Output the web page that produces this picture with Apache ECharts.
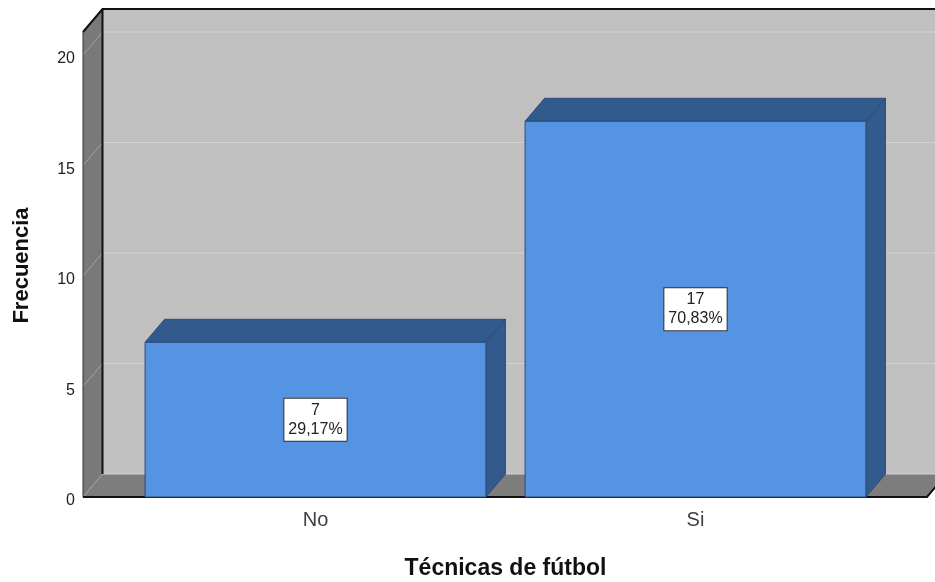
<!DOCTYPE html>
<html>
<head>
<meta charset="utf-8">
<script src="https://cdn.jsdelivr.net/npm/echarts@6/dist/echarts.min.js"></script>
<style>
  html, body { margin: 0; padding: 0; background: #fff; }
  #chart { width: 935px; height: 582px; }
</style>
</head>
<body>
<div id="chart"></div>
<script>
const categories = ['No', 'Si'];
const counts = [7, 17];
const percents = ['29,17%', '70,83%'];
const yTicks = [0, 5, 10, 15, 20];

// depth of the 3d look, in pixels
const DX = 19.5;
const DY = -23;
const FONT = '"Liberation Sans", Arial, sans-serif';

const chart = echarts.init(document.getElementById('chart'));

const renderWalls = (params, api) => {
  const cs = params.coordSys;
  const left = cs.x - 42.5;
  const right = cs.x + cs.width + 41.5;
  const y0 = api.coord([0, 0])[1];
  const yTop = api.coord([0, 20])[1] + DY;
  const children = [];

  // back wall
  children.push({
    type: 'rect',
    shape: { x: left + DX, y: yTop + DY, width: 2000, height: y0 - yTop },
    style: { fill: '#c0c0c0' }
  });
  // left wall
  children.push({
    type: 'polygon',
    shape: { points: [[left, yTop], [left + DX, yTop + DY], [left + DX, y0 + DY], [left, y0]] },
    style: { fill: '#797979' }
  });
  // floor
  children.push({
    type: 'polygon',
    shape: { points: [[left, y0], [left + DX, y0 + DY], [right + DX, y0 + DY], [right, y0]] },
    style: { fill: '#7d7d7d' }
  });
  // grid lines
  yTicks.forEach(v => {
    const y = api.coord([0, v])[1];
    children.push({
      type: 'line',
      shape: { x1: left + DX, y1: y + DY, x2: right + 200, y2: y + DY },
      style: { stroke: '#d2d2d2', lineWidth: 1 }
    });
    children.push({
      type: 'line',
      shape: { x1: left, y1: y, x2: left + DX, y2: y + DY },
      style: { stroke: '#a0a0a0', lineWidth: 1 }
    });
  });
  // edges
  children.push({
    type: 'polyline',
    shape: { points: [[left, yTop], [left + DX, yTop + DY], [right + 200, yTop + DY]] },
    style: { stroke: '#111', lineWidth: 2, fill: null }
  });
  children.push({
    type: 'line',
    shape: { x1: left + DX, y1: yTop + DY, x2: left + DX, y2: y0 + DY },
    style: { stroke: '#111', lineWidth: 2 }
  });
  children.push({
    type: 'line',
    shape: { x1: left, y1: yTop, x2: left, y2: y0 },
    style: { stroke: '#333', lineWidth: 1 }
  });
  children.push({
    type: 'polyline',
    shape: { points: [[left, y0], [right, y0], [right + DX, y0 + DY]] },
    style: { stroke: '#111', lineWidth: 2, fill: null }
  });
  return { type: 'group', children };
};

const renderBar = (params, api) => {
  const i = api.value(0);
  const v = api.value(1);
  const top = api.coord([i, v]);
  const base = api.coord([i, 0]);
  const w = api.size([1, 0])[0] * 0.897;
  const x0 = top[0] - w / 2;
  const x1 = top[0] + w / 2;
  const yt = top[1];
  const yb = base[1];
  const edge = '#2c4c78';
  return {
    type: 'group',
    children: [
      {
        type: 'polygon',
        shape: { points: [[x0, yt], [x0 + DX, yt + DY], [x1 + DX, yt + DY], [x1, yt]] },
        style: { fill: '#335a8d', stroke: edge, lineWidth: 1 }
      },
      {
        type: 'polygon',
        shape: { points: [[x1, yt], [x1 + DX, yt + DY], [x1 + DX, yb + DY], [x1, yb]] },
        style: { fill: '#335a8d', stroke: edge, lineWidth: 1 }
      },
      {
        type: 'rect',
        shape: { x: x0, y: yt, width: w, height: yb - yt },
        style: { fill: '#5494e3', stroke: edge, lineWidth: 1 },
        textContent: {
          style: {
            text: counts[params.dataIndex] + '\n' + percents[params.dataIndex],
            fill: '#222',
            font: '16px ' + FONT,
            align: 'center',
            lineHeight: 19,
            backgroundColor: '#fff',
            borderColor: '#333',
            borderWidth: 1,
            padding: [3, 4, 1, 4]
          }
        },
        textConfig: { position: 'inside' }
      }
    ]
  };
};

const option = {
  animation: false,
  grid: { left: 125.5, right: 49.5, top: 55, bottom: 85, outerBoundsMode: 'none', containLabel: false },
  xAxis: {
    type: 'category',
    data: categories,
    axisLine: { show: false },
    axisTick: { show: false },
    axisLabel: { fontSize: 20, color: '#404040', fontFamily: FONT, margin: 13 },
    name: 'Técnicas de fútbol',
    nameLocation: 'middle',
    nameGap: 60,
    nameTextStyle: { fontSize: 23, fontWeight: 'bold', color: '#111', fontFamily: FONT }
  },
  yAxis: {
    type: 'value',
    min: 0,
    max: 20,
    interval: 5,
    offset: 42.5,
    axisLine: { show: false },
    axisTick: { show: false },
    splitLine: { show: false },
    axisLabel: {
      fontSize: 16,
      color: '#222',
      fontFamily: FONT,
      margin: 8,
      formatter: '{v|{value}}',
      rich: { v: { fontSize: 16, fontFamily: FONT, color: '#222', padding: [8, 0, 0, 0] } }
    }
  },
  graphic: [
    {
      type: 'text',
      x: 21.5,
      y: 265.5,
      rotation: Math.PI / 2,
      style: {
        text: 'Frecuencia',
        font: 'bold 22px ' + FONT,
        fill: '#111',
        align: 'center',
        verticalAlign: 'middle'
      }
    }
  ],
  series: [
    {
      type: 'custom',
      z: 1,
      silent: true,
      data: [[0, 0]],
      renderItem: renderWalls
    },
    {
      type: 'custom',
      z: 2,
      data: counts.map((c, i) => [i, c]),
      renderItem: renderBar
    }
  ]
};

chart.setOption(option);
</script>
</body>
</html>
